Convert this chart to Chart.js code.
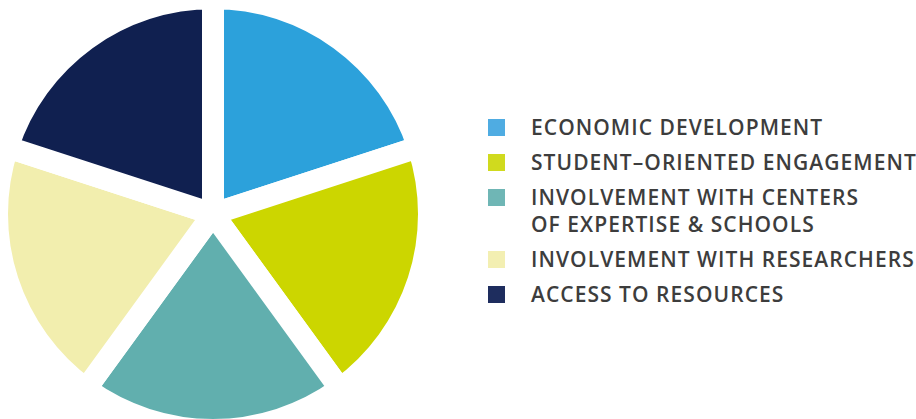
<!DOCTYPE html>
<html>
<head>
<meta charset="utf-8">
<script src="https://cdn.jsdelivr.net/npm/chart.js@4"></script>
<style>
    html, body { margin: 0; padding: 0; background: #fff; overflow: hidden; }
    body { width: 916px; height: 419px; position: relative; }
    #chartBox { position: absolute; left: 0; top: 0; width: 426px; height: 428px; }
    #legend { position: absolute; left: 488px; top: 114px; font-family: "Open Sans", sans-serif; font-weight: 600; font-size: 21px; line-height: 27px; letter-spacing: 1.05px; color: #3d3d3d; }
    .item { position: relative; padding-left: 43px; margin-bottom: 8px; white-space: nowrap; }
    .swatch { position: absolute; left: 0; top: 5px; width: 17px; height: 17px; }
</style>
</head>
<body>
<div id="chartBox"><canvas id="chart"></canvas></div>
<div id="legend"></div>
<script>
const labels = [
    "ECONOMIC DEVELOPMENT",
    "STUDENT–ORIENTED ENGAGEMENT",
    ["INVOLVEMENT WITH CENTERS", "OF EXPERTISE & SCHOOLS"],
    "INVOLVEMENT WITH RESEARCHERS",
    "ACCESS TO RESOURCES"
];
const shares = [20, 20, 20, 20, 20];
const sliceColors = ["#2ca1db", "#ccd600", "#61afae", "#f2eeae", "#102050"];
const swatchColors = ["#4facE2", "#d0da1e", "#6fb6b5", "#f3efb2", "#1e2d5e"];

// legend
let legendEl = document.getElementById("legend");
labels.forEach((lab, i) => {
    let item = document.createElement("div");
    item.className = "item";
    let sw = document.createElement("span");
    sw.className = "swatch";
    sw.style.background = swatchColors[i];
    item.appendChild(sw);
    let lines = Array.isArray(lab) ? lab : [lab];
    lines.forEach(line => {
        let d = document.createElement("div");
        d.textContent = line;
        item.appendChild(d);
    });
    legendEl.appendChild(item);
});

let ctx = document.getElementById("chart").getContext("2d");
let PieChart = new Chart(ctx, {
    type: 'pie',
    data: {
        labels: labels.map(l => Array.isArray(l) ? l.join(" ") : l),
        datasets: [{
            data: shares,
            backgroundColor: sliceColors,
            borderColor: "#ffffff",
            borderWidth: 22,
            borderJoinStyle: "miter"
        }]
    },
    options: {
        responsive: true,
        maintainAspectRatio: false,
        radius: 216,
        animation: false,
        plugins: {
            legend: { display: false },
            tooltip: { enabled: false }
        }
    }
});
</script>
</body>
</html>
